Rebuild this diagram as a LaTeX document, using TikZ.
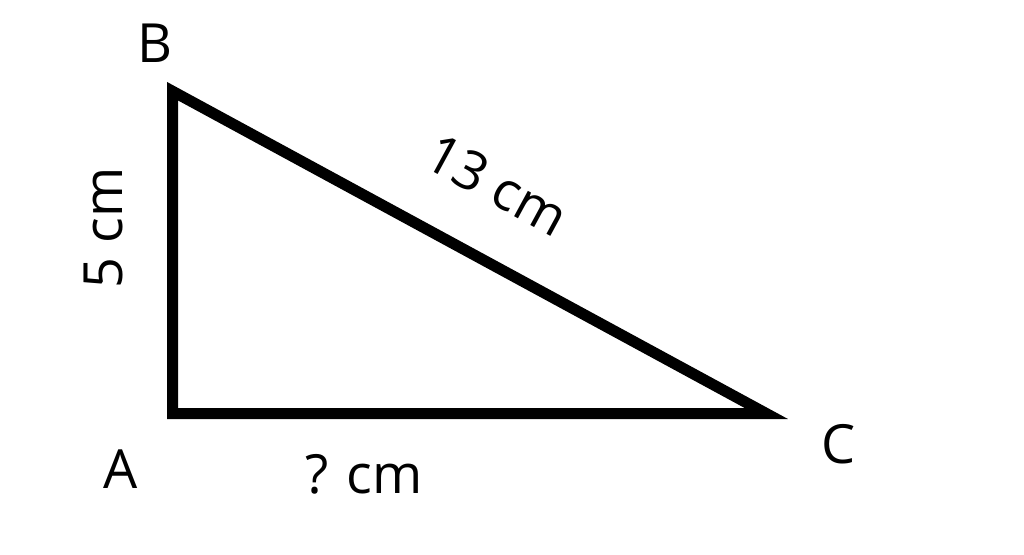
\documentclass[tikz,border=0pt]{standalone}
\usepackage{fontspec}
\setmainfont{Open Sans}
\usetikzlibrary{positioning}

\begin{document}
\begin{tikzpicture}[x=1pt, y=-1pt,
    side/.style={draw=black, line width=11pt, line join=miter},
    vertex/.style={text=black, inner sep=0pt, anchor=base, font=\fontsize{54}{64}\selectfont},
    length/.style={text=black, inner sep=0pt, font=\fontsize{54}{64}\selectfont},
    ]
  \useasboundingbox (0,0) rectangle (1024,554);

  \coordinate (A) at (172.5,413.5);
  \coordinate (B) at (172.5,91.2);
  \coordinate (C) at (766.3,413.5);

  \draw[side] (A) -- (B) -- (C) -- cycle;

  \node[vertex] (labelA) at (121,488) {A};
  \node[vertex] (labelB) at (155,62) {B};
  \node[vertex] (labelC) at (839,463) {C};

  \node[length, rotate=90, anchor=base] (sideAB) at (122,228) {5 cm};
  \node[length, rotate=-28.5] (sideBC) at (497,185) {13 cm};
  \node[length, anchor=base] (sideAC) at (364,493) {? cm};

\end{tikzpicture}
\end{document}
